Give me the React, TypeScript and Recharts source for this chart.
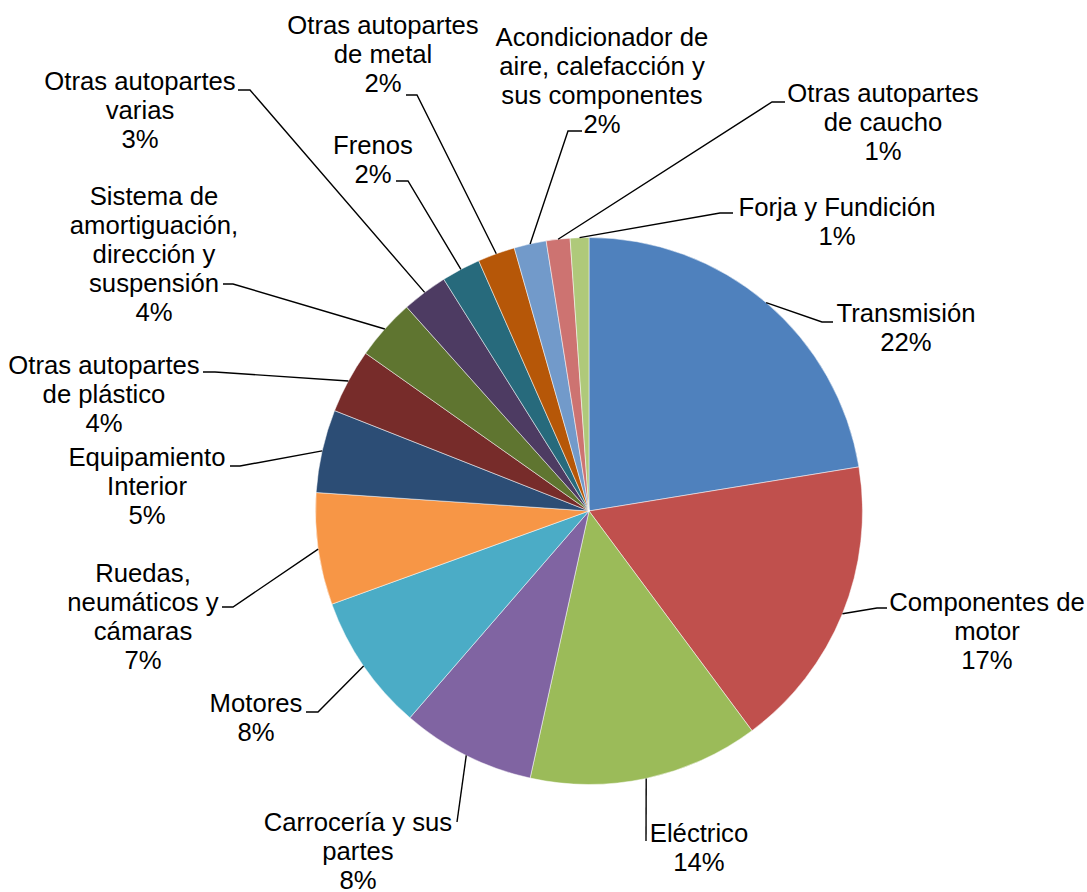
import { Cell, Pie, PieChart } from "recharts";

const CATEGORIES = [
  "Transmisión",
  "Componentes de\nmotor",
  "Eléctrico",
  "Carrocería y sus\npartes",
  "Motores",
  "Ruedas,\nneumáticos y\ncámaras",
  "Equipamiento\nInterior",
  "Otras autopartes\nde plástico",
  "Sistema de\namortiguación,\ndirección y\nsuspensión",
  "Otras autopartes\nvarias",
  "Frenos",
  "Otras autopartes\nde metal",
  "Acondicionador de\naire, calefacción y\nsus componentes",
  "Otras autopartes\nde caucho",
  "Forja y Fundición",
];

const SHARES = [22.4, 17.4, 13.6, 7.9, 8.1, 6.6, 4.9, 3.8, 3.6, 2.7, 2.3, 2.2, 1.9, 1.4, 1.1];

const COLORS = [
  "#4F81BD", "#C0504D", "#9BBB59", "#8064A2", "#4BACC6",
  "#F79646", "#2C4D75", "#772C2A", "#5F7530", "#4D3B62",
  "#276A7C", "#B65708", "#729ACA", "#CD7371", "#AFC97A",
];

// label placement relative to the pie centre: text centre (first line), elbow, end of the short horizontal
const LABEL_LAYOUT = [
  { tx: 317, ty: -198, ex: 233, ey: -189, hx: 244 },
  { tx: 398, ty: 91, ex: 288, ey: 97, hx: 298 },
  { tx: 110, ty: 322, ex: 57, ey: 330, hx: 57 },
  { tx: -231, ty: 311, ex: -132, ey: 311, hx: -132 },
  { tx: -333, ty: 192, ex: -271, ey: 201, hx: -283 },
  { tx: -446, ty: 62, ex: -356, ey: 96, hx: -367 },
  { tx: -442, ty: -54, ex: -349, ey: -45, hx: -359 },
  { tx: -485, ty: -146, ex: -374, ey: -139, hx: -386 },
  { tx: -435, ty: -315, ex: -356, ey: -227, hx: -366 },
  { tx: -449, ty: -430, ex: -339, ey: -421, hx: -351 },
  { tx: -216, ty: -366, ex: -181, ey: -330, hx: -193 },
  { tx: -206, ty: -486, ex: -172, ey: -416, hx: -183 },
  { tx: 13, ty: -474, ex: -21, ey: -380, hx: -7 },
  { tx: 294, ty: -418, ex: 183, ey: -409, hx: 196 },
  { tx: 248, ty: -304, ex: 131, ey: -298, hx: 144 },
];

const RAD = Math.PI / 180;
const LINE_HEIGHT = 29;

const data = CATEGORIES.map((name, i) => ({ name, value: SHARES[i] }));

function renderLabel(props: any) {
  const { cx, cy, midAngle, outerRadius, percent, index } = props;
  const layout = LABEL_LAYOUT[index];
  const sx = cx + outerRadius * Math.cos(-midAngle * RAD);
  const sy = cy + outerRadius * Math.sin(-midAngle * RAD);
  const lines = [...CATEGORIES[index].split("\n"), `${Math.round(percent * 100)}%`];
  return (
    <g key={`label-${index}`}>
      <polyline
        points={`${sx},${sy} ${cx + layout.ex},${cy + layout.ey} ${cx + layout.hx},${cy + layout.ey}`}
        fill="none"
        stroke="#000"
        strokeWidth={1.4}
      />
      {lines.map((line, j) => (
        <text
          key={j}
          x={cx + layout.tx}
          y={cy + layout.ty + j * LINE_HEIGHT}
          textAnchor="middle"
          dominantBaseline="central"
          fill="#000"
          fontSize={25.7}
          fontFamily="'Liberation Sans', Arial, sans-serif"
        >
          {line}
        </text>
      ))}
    </g>
  );
}

export default function App() {
  return (
    <div style={{ position: "absolute", left: 0, top: 0, background: "#fff" }}>
      <PieChart width={1087} height={892} margin={{ top: 0, right: 0, bottom: 0, left: 0 }}>
        <Pie
          data={data}
          dataKey="value"
          nameKey="name"
          cx={589}
          cy={511}
          outerRadius={273.5}
          startAngle={90}
          endAngle={-270}
          stroke="#ffffff"
          strokeWidth={0.5}
          label={renderLabel}
          labelLine={false}
          isAnimationActive={false}
        >
          {data.map((entry, i) => (
            <Cell key={entry.name} fill={COLORS[i]} />
          ))}
        </Pie>
      </PieChart>
    </div>
  );
}
